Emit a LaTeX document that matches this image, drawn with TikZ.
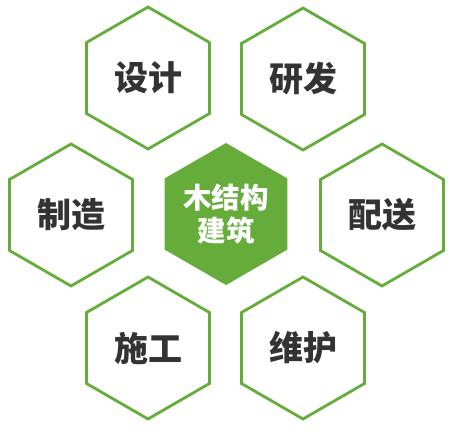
\documentclass[tikz,border=0pt]{standalone}
\usepackage{fontspec}
\newfontfamily\cjk{Noto Sans CJK SC}
\usetikzlibrary{shapes.geometric}
\definecolor{wood}{RGB}{101,172,59}
\definecolor{txt}{RGB}{51,51,51}

\begin{document}
\begin{tikzpicture}[x=1pt, y=-1pt, every node/.style={regular polygon, regular polygon sides=6, shape border rotate=30, minimum size=142pt, inner sep=0pt, line width=2.8pt}, hexa/.style={draw=wood, text=txt, font=\cjk\bfseries\fontsize{34}{36}\selectfont}, kern/.style={fill=wood, text=white, align=center, font=\cjk\bfseries\fontsize{28.5}{33}\selectfont}]
        \useasboundingbox (0,0) rectangle (454,431);

        \node (jz) [kern] at (226,214) {木结构\\建筑};
        \node (sj) [hexa] at (148,78) {设计};
        \node (yf) [hexa] at (303,79) {研发};
        \node (zz) [hexa] at (71,215) {制造};
        \node (ps) [hexa] at (382,215) {配送};
        \node (sg) [hexa] at (148,348) {施工};
        \node (wh) [hexa] at (303,348) {维护};
    \end{tikzpicture}
\end{document}
